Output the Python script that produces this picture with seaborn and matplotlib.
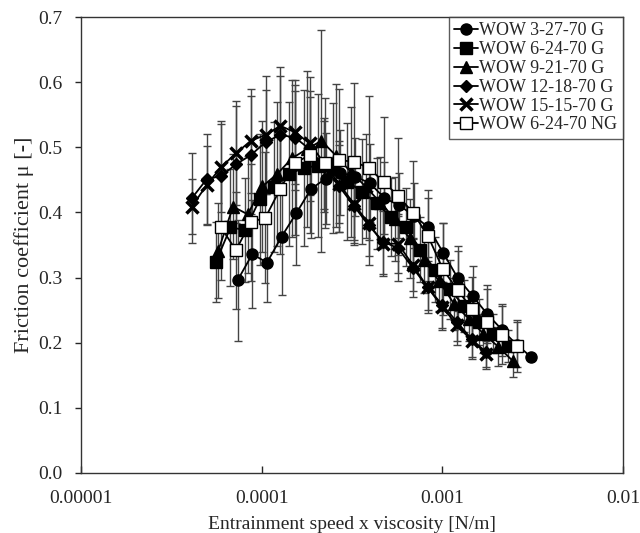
import numpy as np
import pandas as pd
import matplotlib
matplotlib.use("Agg")
import matplotlib.pyplot as plt
import seaborn as sns

labels = ["WOW 3-27-70 G", "WOW 6-24-70 G", "WOW 9-21-70 G",
          "WOW 12-18-70 G", "WOW 15-15-70 G", "WOW 6-24-70 NG"]

x_c = [7.36e-5, 8.88e-5, 1.070e-4, 1.290e-4, 1.556e-4, 1.876e-4, 2.262e-4, 2.728e-4,
       3.289e-4, 3.966e-4, 4.782e-4, 5.767e-4, 6.953e-4, 8.384e-4, 1.011e-3, 1.219e-3,
       1.470e-3, 1.772e-3, 2.137e-3, 2.577e-3, 3.107e-3]
y_c = [0.296, 0.336, 0.323, 0.363, 0.399, 0.436, 0.452, 0.461, 0.455, 0.445, 0.422,
       0.411, 0.395, 0.377, 0.338, 0.299, 0.272, 0.244, 0.220, 0.197, 0.178]
e_c = [0.093, 0.083, 0.060, 0.090, 0.080, 0.075, 0.070, 0.065, 0.060, 0.060, 0.055,
       0.050, 0.050, 0.045, 0.045, 0.050, 0.045, 0.045, 0.040, 0.035, 0.000]

x_s = [5.58e-5, 6.72e-5, 8.10e-5, 9.75e-5, 1.175e-4, 1.415e-4, 1.705e-4, 2.054e-4,
       2.474e-4, 2.980e-4, 3.590e-4, 4.324e-4, 5.209e-4, 6.275e-4, 7.559e-4, 9.105e-4,
       1.097e-3, 1.321e-3, 1.592e-3, 1.917e-3, 2.309e-3]
y_s = [0.324, 0.377, 0.373, 0.420, 0.439, 0.459, 0.468, 0.472, 0.468, 0.447, 0.432,
       0.414, 0.393, 0.378, 0.343, 0.312, 0.282, 0.256, 0.232, 0.214, 0.195]
e_s = [0.061, 0.090, 0.080, 0.100, 0.100, 0.110, 0.120, 0.110, 0.100, 0.090, 0.080,
       0.070, 0.060, 0.060, 0.050, 0.050, 0.045, 0.040, 0.035, 0.030, 0.025]

x_t = [5.75e-5, 6.94e-5, 8.37e-5, 1.010e-4, 1.218e-4, 1.470e-4, 1.773e-4, 2.140e-4,
       2.582e-4, 3.115e-4, 3.758e-4, 4.534e-4, 5.470e-4, 6.600e-4, 7.962e-4, 9.607e-4,
       1.159e-3, 1.398e-3, 1.687e-3, 2.036e-3, 2.456e-3]
y_t = [0.341, 0.409, 0.397, 0.440, 0.459, 0.483, 0.497, 0.510, 0.487, 0.462, 0.440,
       0.415, 0.390, 0.360, 0.327, 0.294, 0.260, 0.237, 0.214, 0.194, 0.172]
e_t = [0.073, 0.080, 0.090, 0.100, 0.110, 0.120, 0.120, 0.170, 0.110, 0.100, 0.080,
       0.070, 0.065, 0.060, 0.050, 0.045, 0.040, 0.035, 0.030, 0.030, 0.025]

x_d = [4.11e-5, 4.96e-5, 5.98e-5, 7.22e-5, 8.71e-5, 1.051e-4, 1.268e-4, 1.530e-4,
       1.845e-4, 2.226e-4, 2.686e-4, 3.241e-4, 3.910e-4, 4.717e-4, 5.692e-4, 6.867e-4,
       8.285e-4, 9.996e-4, 1.206e-3, 1.455e-3, 1.755e-3]
y_d = [0.422, 0.451, 0.456, 0.474, 0.488, 0.508, 0.519, 0.515, 0.497, 0.470, 0.440,
       0.410, 0.380, 0.355, 0.345, 0.315, 0.285, 0.258, 0.232, 0.205, 0.185]
e_d = [0.069, 0.070, 0.080, 0.090, 0.090, 0.080, 0.090, 0.080, 0.080, 0.070, 0.070,
       0.060, 0.060, 0.050, 0.050, 0.045, 0.040, 0.035, 0.030, 0.030, 0.025]

x_x = [4.11e-5, 4.96e-5, 5.98e-5, 7.22e-5, 8.71e-5, 1.051e-4, 1.268e-4, 1.530e-4,
       1.845e-4, 2.226e-4, 2.686e-4, 3.241e-4, 3.910e-4, 4.717e-4, 5.692e-4, 6.867e-4,
       8.285e-4, 9.996e-4, 1.206e-3, 1.455e-3, 1.755e-3]
y_x = [0.409, 0.442, 0.470, 0.491, 0.510, 0.519, 0.533, 0.523, 0.506, 0.475, 0.444,
       0.413, 0.383, 0.352, 0.352, 0.319, 0.285, 0.255, 0.227, 0.203, 0.183]
e_x = [0.042, 0.060, 0.070, 0.080, 0.080, 0.090, 0.090, 0.080, 0.080, 0.070, 0.060,
       0.060, 0.050, 0.050, 0.045, 0.040, 0.035, 0.035, 0.030, 0.025, 0.020]

x_o = [5.96e-5, 7.20e-5, 8.69e-5, 1.049e-4, 1.266e-4, 1.529e-4, 1.846e-4, 2.228e-4,
       2.690e-4, 3.248e-4, 3.921e-4, 4.734e-4, 5.715e-4, 6.899e-4, 8.330e-4, 1.006e-3,
       1.214e-3, 1.466e-3, 1.770e-3, 2.136e-3, 2.579e-3]
y_o = [0.377, 0.342, 0.385, 0.392, 0.436, 0.476, 0.488, 0.476, 0.480, 0.478, 0.468,
       0.447, 0.425, 0.399, 0.364, 0.313, 0.281, 0.251, 0.232, 0.212, 0.195]
e_o = [0.080, 0.090, 0.090, 0.100, 0.100, 0.110, 0.120, 0.100, 0.110, 0.120, 0.110,
       0.100, 0.090, 0.080, 0.070, 0.070, 0.060, 0.050, 0.050, 0.045, 0.040]

xs = [x_c, x_s, x_t, x_d, x_x, x_o]
ys = [y_c, y_s, y_t, y_d, y_x, y_o]
es = [e_c, e_s, e_t, e_d, e_x, e_o]

styles = [
    dict(marker="o", ms=8, mfc="black", mec="black", mew=1),
    dict(marker="s", ms=8, mfc="black", mec="black", mew=1),
    dict(marker="^", ms=8, mfc="black", mec="black", mew=1),
    dict(marker="D", ms=6, mfc="black", mec="black", mew=1),
    dict(marker="x", ms=8, mfc="black", mec="black", mew=2.5),
    dict(marker="s", ms=8, mfc="white", mec="black", mew=1),
]

sns.set_style("ticks")
plt.rcParams["font.family"] = ["Liberation Serif", "DejaVu Serif"]

fig = plt.figure(figsize=(6.4, 5.33), dpi=100)
ax = fig.add_axes([0.1266, 0.1126, 0.8468, 0.8555])

for i, lab in enumerate(labels):
    ax.errorbar(xs[i], ys[i], yerr=es[i], fmt="none", ecolor="#444444",
                elinewidth=1.0, capsize=3, capthick=1.0, zorder=2)

for i, lab in enumerate(labels):
    df = pd.DataFrame({"x": xs[i], "y": ys[i]})
    sns.lineplot(data=df, x="x", y="y", ax=ax, color="black", lw=1.3,
                 sort=False, label=lab, zorder=3 + i, **styles[i])

ax.set_xscale("log")
ax.set_xlim(1e-5, 1e-2)
ax.set_ylim(0, 0.7)
ax.set_xticks([1e-5, 1e-4, 1e-3, 1e-2])
ax.set_xticklabels(["0.00001", "0.0001", "0.001", "0.01"])
ax.xaxis.set_minor_locator(matplotlib.ticker.NullLocator())
ax.set_yticks(np.arange(0, 0.71, 0.1))
ax.set_yticklabels([f"{v:.1f}" for v in np.arange(0, 0.71, 0.1)])
ax.tick_params(axis="x", direction="in", length=5, width=1, labelsize=14, pad=12)
ax.tick_params(axis="y", direction="out", length=4.5, width=1, labelsize=14, pad=9)
for s in ax.spines.values():
    s.set_linewidth(1.0)
    s.set_color("#333333")
    s.set_visible(True)

ax.set_xlabel("Entrainment speed x viscosity [N/m]", fontsize=14, labelpad=7)
ax.set_ylabel("Friction coefficient μ [-]", fontsize=16, labelpad=3)

leg = ax.legend(loc="upper right", frameon=True, fontsize=13, handlelength=1.3,
                handletextpad=0.1, labelspacing=0.1, borderpad=0.3,
                borderaxespad=0.0, fancybox=False)
leg.get_frame().set_edgecolor("#333333")
leg.get_frame().set_linewidth(1.0)

fig.savefig("out.png", dpi=100)
